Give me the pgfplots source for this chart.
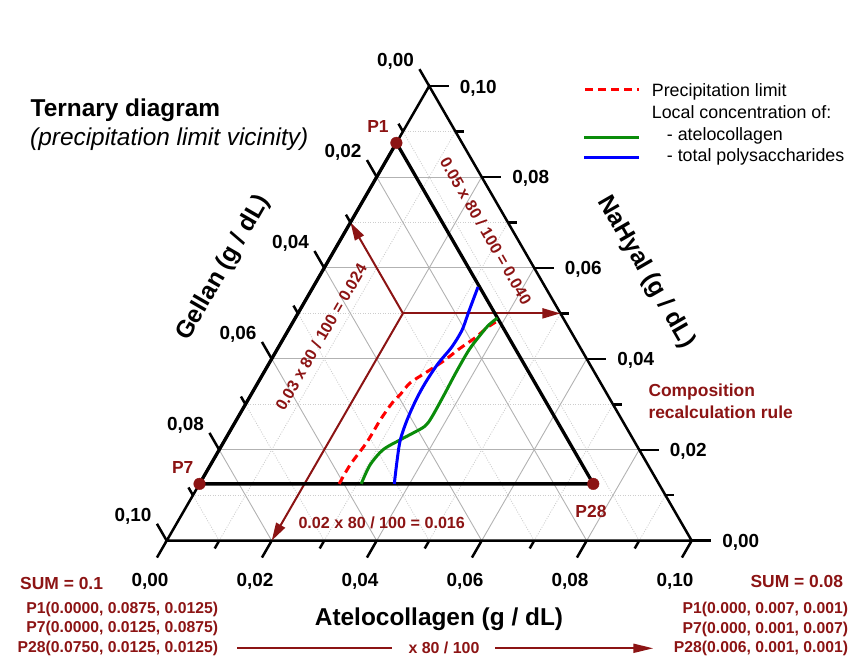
\documentclass[border=0pt]{standalone}
\usepackage{pgfplots}
\pgfplotsset{compat=1.18}
\usepackage{pgfplotstable}
\usepackage{fontspec}
\setmainfont{Liberation Sans}
\usetikzlibrary{arrows.meta}

\definecolor{maroon}{RGB}{140,20,20}
\definecolor{gridgray}{RGB}{178,178,178}
\definecolor{gridlight}{RGB}{205,205,205}
\definecolor{atelo}{RGB}{10,140,10}
\definecolor{polys}{RGB}{0,0,255}
\definecolor{precip}{RGB}{255,0,0}

% compositions in g/dL: A = atelocollagen, N = NaHyal, G = gellan (A+N+G = 0.1)
\pgfplotstableread{
A N G
0.0000 0.0875 0.0125
0.0000 0.0125 0.0875
0.0750 0.0125 0.0125
}\corners

\pgfplotstableread{
A N G
0.0266 0.0125 0.0609
0.0266 0.0167 0.0567
0.0273 0.0217 0.0510
0.0274 0.0266 0.0460
0.0278 0.0303 0.0419
0.0284 0.0321 0.0395
0.0290 0.0347 0.0363
0.0309 0.0370 0.0321
0.0331 0.0397 0.0272
0.0345 0.0420 0.0235
0.0364 0.0446 0.0190
0.0377 0.0470 0.0153
0.0390 0.0485 0.0125
}\precipitation

\pgfplotstableread{
A N G
0.0308 0.0125 0.0567
0.0304 0.0167 0.0529
0.0312 0.0200 0.0488
0.0334 0.0222 0.0444
0.0351 0.0237 0.0412
0.0366 0.0252 0.0382
0.0369 0.0272 0.0359
0.0368 0.0320 0.0312
0.0366 0.0370 0.0264
0.0366 0.0420 0.0214
0.0372 0.0457 0.0171
0.0376 0.0474 0.0150
0.0385 0.0490 0.0125
}\atelocollagen

\pgfplotstableread{
A N G
0.0371 0.0125 0.0504
0.0350 0.0178 0.0472
0.0334 0.0222 0.0444
0.0325 0.0266 0.0409
0.0320 0.0310 0.0370
0.0319 0.0347 0.0334
0.0322 0.0389 0.0289
0.0330 0.0426 0.0244
0.0331 0.0463 0.0206
0.0324 0.0501 0.0175
0.0319 0.0529 0.0152
0.0314 0.0558 0.0128
}\polysaccharides

% ternary point (thousandths of g/dL: atelocollagen, NaHyal) in the page frame
\newcommand{\tp}[2]{({166.7+5.25*(#1)+2.625*(#2)},{540.7-4.5466*(#2)})}

\newcommand{\ticklab}{\fontsize{19}{22}\selectfont\bfseries}
\newcommand{\axlab}{\fontsize{24.5}{28}\selectfont\bfseries}
\newcommand{\notelab}{\fontsize{15.8}{19}\selectfont\bfseries}
\newcommand{\rotnote}{\fontsize{16.2}{19}\selectfont\bfseries}
\newcommand{\sumlab}{\fontsize{17.5}{21}\selectfont\bfseries}
\newcommand{\leglab}{\fontsize{17.9}{21}\selectfont}

% map (A, N) compositions onto the page frame
\pgfplotsset{
  /pgfplots/table/ternary/.style={
    x expr={166.7+5250*(\thisrow{A}+0.5*\thisrow{N})},
    y expr={540.7-4546.6*\thisrow{N}}},
}

\begin{document}
\begin{tikzpicture}
\useasboundingbox (0,0) rectangle (861bp,659bp);

% page frame: 1 unit = 1bp, y measured downward from the top edge
\begin{scope}[x=1bp,y=-1bp,shift={(0,-659)}]
  % grid
  \foreach \v in {10,30,50,70,90}{
    \draw[gridlight, line width=0.8bp, dash pattern=on 1bp off 1.5bp] \tp{0}{\v} -- \tp{100-\v}{\v};
    \draw[gridlight, line width=0.8bp, dash pattern=on 1bp off 1.5bp] \tp{\v}{0} -- \tp{\v}{100-\v};
    \draw[gridlight, line width=0.8bp, dash pattern=on 1bp off 1.5bp] \tp{100-\v}{0} -- \tp{0}{100-\v};
  }
  \foreach \v in {20,40,60,80}{
    \draw[gridgray, line width=0.9bp] \tp{0}{\v} -- \tp{100-\v}{\v};
    \draw[gridgray, line width=0.9bp] \tp{\v}{0} -- \tp{\v}{100-\v};
    \draw[gridgray, line width=0.9bp] \tp{100-\v}{0} -- \tp{0}{100-\v};
  }
  % outer triangle
  \draw[black, line width=2.5bp, line join=miter] \tp{0}{0} -- \tp{100}{0} -- \tp{0}{100} -- cycle;
  % ticks
  \foreach \v in {0,20,40,60,80,100}{
    \draw[black, line width=2.5bp] \tp{\v}{0} -- ++({-0.5*19.5},{0.866*19.5});
    \draw[black, line width=2.5bp] \tp{0}{100-\v} -- ++({-0.5*19.5},{-0.866*19.5});
    \draw[black, line width=2.5bp] \tp{100-\v}{\v} -- ++(19.5,0);
  }
  \foreach \v in {10,30,50,70,90}{
    \draw[black, line width=2.5bp] \tp{\v}{0} -- ++({-0.5*9},{0.866*9});
    \draw[black, line width=2.5bp] \tp{0}{100-\v} -- ++({-0.5*9},{-0.866*9});
    \draw[black, line width=2.5bp] \tp{100-\v}{\v} -- ++(9,0);
  }
  % tick labels
  \foreach \v/\t in {0/00,20/02,40/04,60/06,80/08,100/10}{
    \node[inner sep=0pt, anchor=base, xshift=-16.7bp, yshift=-45.8bp, font=\ticklab] at \tp{\v}{0} {0,\t};
    \node[inner sep=0pt, anchor=base east, xshift=-15bp, yshift=19.7bp, font=\ticklab] at \tp{0}{100-\v} {0,\t};
    \node[inner sep=0pt, anchor=base west, xshift=30.5bp, yshift=-7bp, font=\ticklab] at \tp{100-\v}{\v} {0,\t};
  }
  % composition recalculation construction
  \draw[maroon, line width=2bp, -{Triangle[length=18bp,width=10bp]}] \tp{20}{50} -- \tp{50}{50};
  \draw[maroon, line width=2bp, -{Triangle[length=18bp,width=10bp]}] \tp{20}{50} -- \tp{0}{70};
  \draw[maroon, line width=2bp, -{Triangle[length=18bp,width=10bp]}] \tp{20}{50} -- \tp{20}{0};
\end{scope}

\begin{axis}[
  at={(0,0)}, anchor=south west,
  width=861bp, height=659bp, scale only axis,
  xmin=0, xmax=861, ymin=0, ymax=659, y dir=reverse,
  hide axis, clip=false,
]
\addplot[black, line width=3.3bp, line join=round] table[ternary] {\corners} -- cycle;
\addplot[precip, line width=3bp, dash pattern=on 8bp off 5bp, smooth, tension=0.5] table[ternary] {\precipitation};
\addplot[atelo, line width=3bp, smooth, tension=0.5] table[ternary] {\atelocollagen};
\addplot[polys, line width=3bp, smooth, tension=0.5] table[ternary] {\polysaccharides};
\addplot[only marks, mark=*, mark size=5.8bp, maroon, mark options={fill=maroon, draw=maroon}] table[ternary] {\corners};
\end{axis}

\begin{scope}[x=1bp,y=-1bp,shift={(0,-659)}]
  % titles
  \node[inner sep=0pt, anchor=base west, font=\fontsize{24.5}{28}\selectfont\bfseries] at (30.5,116.7) {Ternary diagram};
  \node[inner sep=0pt, anchor=base west, font=\fontsize{24.5}{28}\selectfont\itshape] at (30,145.5) {(precipitation limit vicinity)};
  % axis titles
  \node[inner sep=0pt, anchor=base, font=\axlab] at (439,625.7) {Atelocollagen (g / dL)};
  \node[inner sep=0pt, anchor=center, rotate=60, font=\axlab] at (223.5,268) {Gellan (g / dL)};
  \node[inner sep=0pt, anchor=center, rotate=-60, font=\axlab] at (646,272) {NaHyal (g / dL)};
  % legend
  \draw[precip, line width=3bp, dash pattern=on 8bp off 5bp] (585,90) -- (639,90);
  \node[inner sep=0pt, anchor=base west, font=\leglab] at (651.7,96.5) {Precipitation limit};
  \node[inner sep=0pt, anchor=base west, font=\leglab] at (651.7,118.3) {Local concentration of:};
  \draw[atelo, line width=3bp] (584,137.3) -- (639,137.3);
  \node[inner sep=0pt, anchor=base west, font=\leglab] at (666.7,140.5) {- atelocollagen};
  \draw[polys, line width=3bp] (584,157.3) -- (639,157.3);
  \node[inner sep=0pt, anchor=base west, font=\leglab] at (666.7,161.7) {- total polysaccharides};
  % point labels
  \node[inner sep=0pt, font=\sumlab, text=maroon] at (378,127) {P1};
  \node[inner sep=0pt, font=\sumlab, text=maroon] at (182.7,468) {P7};
  \node[inner sep=0pt, font=\sumlab, text=maroon] at (591,511.7) {P28};
  % recalculation notes
  \node[inner sep=0pt, rotate=60, font=\rotnote, text=maroon] at (321,337) {0.03 x 80 / 100 = 0.024};
  \node[inner sep=0pt, rotate=-60, font=\rotnote, text=maroon] at (486,231) {0.05 x 80 / 100 = 0.040};
  \node[inner sep=0pt, anchor=base west, font=\rotnote, text=maroon] at (298.3,528.3) {0.02 x 80 / 100 = 0.016};
  \node[inner sep=0pt, anchor=base west, font=\sumlab, text=maroon] at (648.3,396.7) {Composition};
  \node[inner sep=0pt, anchor=base west, font=\sumlab, text=maroon] at (648.3,418.3) {recalculation rule};
  % sums and point compositions
  \node[inner sep=0pt, anchor=base west, font=\sumlab, text=maroon] at (20,589.3) {SUM = 0.1};
  \node[inner sep=0pt, anchor=base east, font=\notelab, text=maroon] at (218.3,613.3) {P1(0.0000, 0.0875, 0.0125)};
  \node[inner sep=0pt, anchor=base east, font=\notelab, text=maroon] at (218.3,632.7) {P7(0.0000, 0.0125, 0.0875)};
  \node[inner sep=0pt, anchor=base east, font=\notelab, text=maroon] at (218.3,652.3) {P28(0.0750, 0.0125, 0.0125)};
  \node[inner sep=0pt, anchor=base east, font=\sumlab, text=maroon] at (843.3,587.3) {SUM = 0.08};
  \node[inner sep=0pt, anchor=base east, font=\notelab, text=maroon] at (848.3,613.3) {P1(0.000, 0.007, 0.001)};
  \node[inner sep=0pt, anchor=base east, font=\notelab, text=maroon] at (848.3,633.3) {P7(0.000, 0.001, 0.007)};
  \node[inner sep=0pt, anchor=base east, font=\notelab, text=maroon] at (848.3,652.7) {P28(0.006, 0.001, 0.001)};
  \draw[maroon, line width=2bp] (237,648.3) -- (392,648.3);
  \node[inner sep=0pt, anchor=base, font=\fontsize{16}{19}\selectfont\bfseries, text=maroon] at (444,653.3) {x 80 / 100};
  \draw[maroon, line width=2bp, -{Triangle[length=20bp,width=9bp]}] (495,648.3) -- (653.3,648.3);
\end{scope}
\end{tikzpicture}
\end{document}
